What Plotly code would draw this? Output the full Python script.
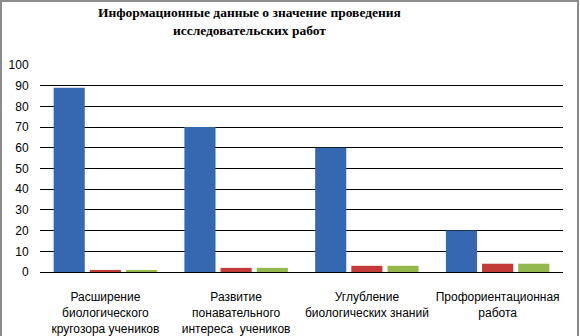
import plotly.graph_objects as go

categories = [
    "Расширение<br>биологического<br>кругозора учеников",
    "Развитие<br>понавательного<br>интереса  учеников",
    "Углубление<br>биологических знаний",
    "Профориентационная<br>работа",
]
series_blue = [89, 70, 60, 20]
series_red = [1, 2, 3, 4]
series_green = [1, 2, 3, 4]
y_ticks = [0, 10, 20, 30, 40, 50, 60, 70, 80, 90, 100]
title_text = "Информационные данные о значение проведения<br>исследовательских работ"

W, H = 580, 336
L, R, T, B = 40, 17, 65, 64
pw, ph = W - L - R, H - T - B

fig = go.Figure()
for vals, col in [(series_blue, "#3568B0"),
                  (series_red, "#C23B38"),
                  (series_green, "#93B84E")]:
    fig.add_trace(go.Bar(x=categories, y=vals, marker=dict(color=col, line=dict(width=0)),
                         showlegend=False, hoverinfo="skip"))

def px_x(px):
    return (px - L) / pw

def px_y(py):
    return (H - B - py) / ph

fig.add_shape(type="rect", xref="paper", yref="paper",
              x0=px_x(1), x1=px_x(578), y0=px_y(345), y1=px_y(1),
              line=dict(color="#8c8c8c", width=2), fillcolor="rgba(0,0,0,0)", layer="above")

fig.add_annotation(text="<b>" + title_text + "</b>", xref="paper", yref="paper",
                   x=px_x(249), y=px_y(3), xanchor="center", yanchor="top",
                   showarrow=False, align="center",
                   font=dict(family="Times New Roman, Liberation Serif, DejaVu Serif, serif",
                             size=13.5, color="black"))

fig.update_layout(
    width=W, height=H,
    margin=dict(l=L, r=R, t=T, b=B, autoexpand=False),
    paper_bgcolor="white", plot_bgcolor="white",
    barmode="group", bargap=0.17, bargroupgap=0.14,
    font=dict(family="Liberation Sans", size=12, color="black"),
)
fig.update_yaxes(range=[0, 100], tickvals=y_ticks, showgrid=True, gridcolor="black",
                 gridwidth=1, zeroline=True, zerolinecolor="black", zerolinewidth=1,
                 ticks="outside", ticklen=8, tickcolor="rgba(0,0,0,0)",
                 tickfont=dict(size=12), fixedrange=True, automargin=False)
fig.update_xaxes(showline=False, ticks="outside", ticklen=14, tickcolor="rgba(0,0,0,0)",
                 tickfont=dict(size=12), tickangle=0, fixedrange=True, automargin=False)

fig.write_html("out.html", config={"displayModeBar": False},
               post_script="document.body.style.margin='0';document.body.style.overflow='hidden';")
